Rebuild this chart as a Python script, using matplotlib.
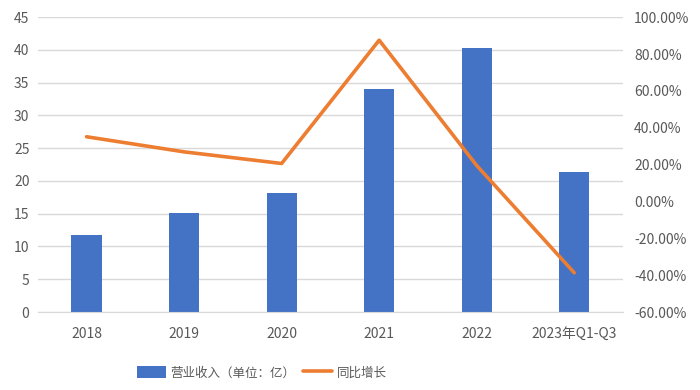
import matplotlib
matplotlib.use("Agg")
import matplotlib.pyplot as plt
from matplotlib.ticker import FuncFormatter
import numpy as np

plt.rcParams['font.family'] = ['Noto Sans CJK SC', 'DejaVu Sans']

# Data
categories = ["2018", "2019", "2020", "2021", "2022", "2023年Q1-Q3"]
revenue = [11.8, 15.1, 18.1, 34.1, 40.3, 21.3]
yoy_growth = [35.1, 26.9, 20.6, 87.5, 19.5, -38.7]

bar_color = "#4472C4"
line_color = "#ED7D31"
text_color = "#595959"
grid_color = "#D9D9D9"

fig = plt.figure(figsize=(7, 3.9), dpi=100)
ax = fig.add_axes([0.054, 0.2, 0.836, 0.756])
x = np.arange(len(categories))

bars = ax.bar(x, revenue, width=0.31, color=bar_color, zorder=2,
              label="营业收入（单位：亿）")
ax.set_ylim(0, 45)
ax.set_yticks(np.arange(0, 46, 5))
ax.set_xlim(-0.5, len(categories) - 0.5)
ax.set_xticks(x)
ax.set_xticklabels(categories)
ax.grid(axis="y", color=grid_color, linewidth=1, zorder=0)
ax.set_axisbelow(True)
for side in ["top", "right", "left"]:
    ax.spines[side].set_visible(False)
ax.spines["bottom"].set_color(grid_color)
ax.tick_params(axis="both", length=0, labelsize=10, colors=text_color)
ax.tick_params(axis="x", pad=11)
ax.tick_params(axis="y", pad=6)

ax2 = ax.twinx()
line, = ax2.plot(x, yoy_growth, color=line_color, linewidth=2.6, zorder=3,
                 solid_joinstyle="round", solid_capstyle="round",
                 label="同比增长")
ax2.set_ylim(-60, 100)
ax2.set_yticks(np.arange(-60, 101, 20))
ax2.yaxis.set_major_formatter(FuncFormatter(lambda v, p: f"{v:.2f}%"))
for side in ["top", "right", "left", "bottom"]:
    ax2.spines[side].set_visible(False)
ax2.tick_params(axis="y", length=0, labelsize=10, colors=text_color, pad=8)

fig.legend([bars, line], ["营业收入（单位：亿）", "同比增长"],
           loc="center", bbox_to_anchor=(0.374, 0.044), ncol=2, frameon=False,
           fontsize=9, labelcolor=text_color, handlelength=2.3,
           handleheight=1.0, handletextpad=0.4, columnspacing=0.6)

fig.savefig("out.png", dpi=100)
